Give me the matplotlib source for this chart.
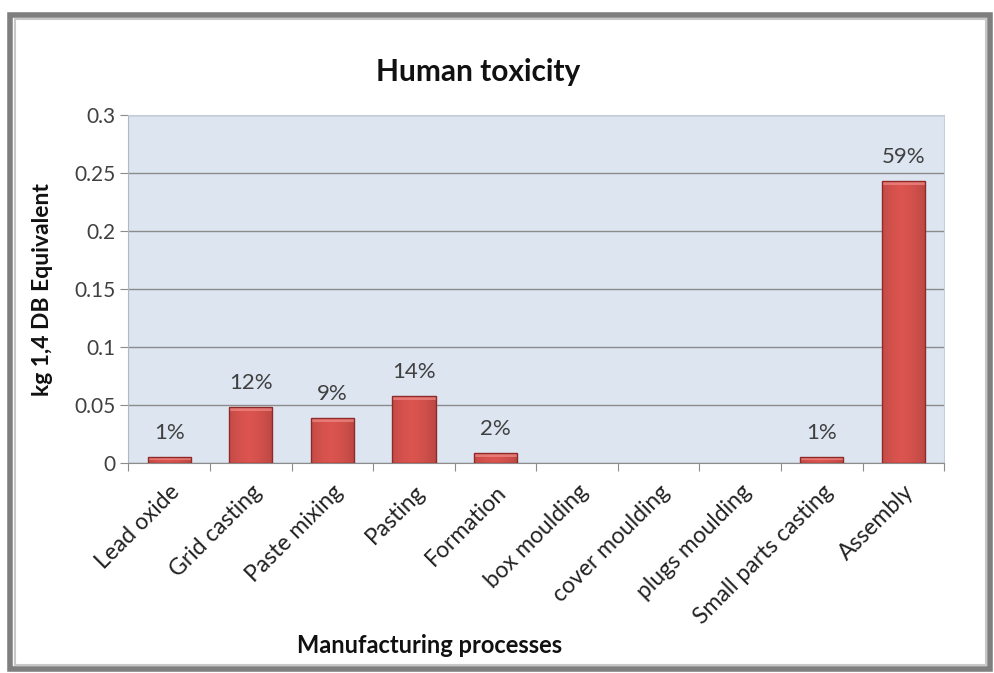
import numpy as np
import matplotlib
matplotlib.use("Agg")
import matplotlib.pyplot as plt
from matplotlib.patches import Rectangle

plt.rcParams['font.family'] = ['Lato', 'DejaVu Sans']

processes = ["Lead oxide", "Grid casting", "Paste mixing", "Pasting", "Formation",
             "box moulding", "cover moulding", "plugs moulding", "Small parts casting", "Assembly"]
values = [0.005, 0.048, 0.039, 0.058, 0.0085, 0.0, 0.0, 0.0, 0.005, 0.243]
shares = ["1%", "12%", "9%", "14%", "2%", "", "", "", "1%", "59%"]
yticks = [0, 0.05, 0.1, 0.15, 0.2, 0.25, 0.3]
ytick_labels = ["0", "0.05", "0.1", "0.15", "0.2", "0.25", "0.3"]

fig = plt.figure(figsize=(9.95, 6.73), dpi=100)
ax = fig.add_axes([0.129, 0.312, 0.820, 0.517])

# outer chart frame
fig.patches.append(Rectangle((0.010, 0.006), 0.985, 0.972, transform=fig.transFigure,
                             fill=False, edgecolor='#7f7f7f', linewidth=4, zorder=0))
fig.patches.append(Rectangle((0.015, 0.012), 0.976, 0.960, transform=fig.transFigure,
                             fill=False, edgecolor='#c8c8c8', linewidth=1.5, zorder=0))

ax.set_facecolor('#dde5f1')
x = np.arange(len(processes))
bars = ax.bar(x, values, width=0.53, color='#c9403c', linewidth=0, zorder=3)

# horizontal shading on each bar, lighter cap at the top
grad = np.linspace(0, 1, 64)
shade = 1 - 0.35 * (np.abs(grad - 0.45) ** 1.5)
red = np.array([0.86, 0.33, 0.31])
img = np.clip(red[None, None, :] * shade[None, :, None], 0, 1)
for b in bars:
    h = b.get_height()
    if h <= 0:
        continue
    x0, w = b.get_x(), b.get_width()
    im = ax.imshow(img, extent=(x0, x0 + w, 0, h), aspect='auto', zorder=3.5,
                   interpolation='bilinear')
    im.set_clip_path(b)
    cap = min(0.0035, h * 0.5)
    ax.fill_between([x0, x0 + w], h - cap, h, color='#f08a86', alpha=0.7,
                    zorder=3.6, linewidth=0)
    ax.add_patch(Rectangle((x0, 0), w, h, fill=False, edgecolor='#8e2a28',
                           linewidth=1.0, zorder=3.7))

for xi, v, s in zip(x, values, shares):
    if s:
        ax.text(xi, v + 0.012, s, ha='center', va='bottom', fontsize=16, color='#404040')

ax.set_xlim(-0.5, len(processes) - 0.5)
ax.set_ylim(0, 0.3)
ax.set_yticks(yticks)
ax.set_yticklabels(ytick_labels, fontsize=15, color='#404040')
ax.yaxis.grid(True, color='#8c8c8c', linewidth=1.0, zorder=1)
ax.set_axisbelow(True)
ax.tick_params(axis='y', length=6, color='#8c8c8c', pad=3)

ax.set_xticks(np.arange(len(processes) + 1) - 0.5, minor=False)
ax.set_xticklabels([])
ax.set_xticks(x, minor=True)
ax.set_xticklabels(processes, minor=True, rotation=45, ha='right', va='top',
                   rotation_mode='anchor', fontsize=16.5, color='#222222')
ax.tick_params(axis='x', which='major', length=6, color='#8c8c8c')
ax.tick_params(axis='x', which='minor', length=0, pad=13)

for side in ['top', 'right']:
    ax.spines[side].set_color('#c6cedb')
ax.spines['left'].set_color('#b0b8c6')
ax.spines['bottom'].set_color('#8c8c8c')

fig.text(0.481, 0.893, "Human toxicity", ha='center', va='center', fontsize=21.5,
         fontweight='bold', color='#111111')
fig.text(0.043, 0.57, "kg 1,4 DB Equivalent", ha='center', va='center', rotation=90,
         fontsize=16.5, fontweight='bold', color='#111111')
fig.text(0.432, 0.041, "Manufacturing processes", ha='center', va='center',
         fontsize=17, fontweight='bold', color='#111111')

fig.savefig("out.png", dpi=100, facecolor='white')
